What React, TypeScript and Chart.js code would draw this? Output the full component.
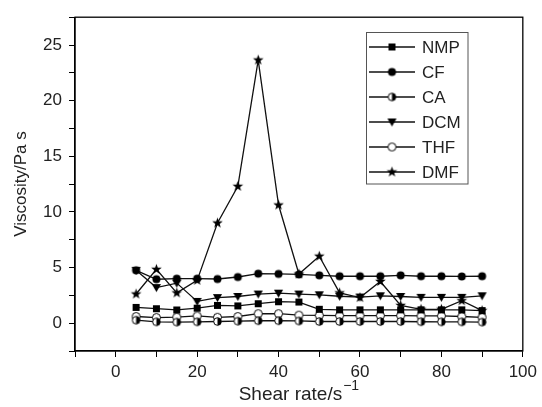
import React, { useEffect, useRef } from 'react';
import { Chart, registerables } from 'chart.js';

Chart.register(...registerables);

const FONT = '"Liberation Sans", Arial, Helvetica, sans-serif';

// Shear rate (s^-1)
const SHEAR = [5, 10, 15, 20, 25, 30, 35, 40, 45, 50, 55, 60, 65, 70, 75, 80, 85, 90];

// Viscosity (Pa s) per solvent
const NMP = [1.42, 1.3, 1.19, 1.35, 1.6, 1.55, 1.75, 1.93, 1.9, 1.25, 1.2, 1.2, 1.2, 1.2, 1.2, 1.2, 1.2, 1.13];
const CF = [4.75, 3.95, 4.0, 4.0, 3.97, 4.15, 4.45, 4.43, 4.38, 4.3, 4.22, 4.22, 4.22, 4.3, 4.22, 4.22, 4.2, 4.22];
const CA = [0.27, 0.12, 0.1, 0.12, 0.15, 0.18, 0.22, 0.22, 0.2, 0.15, 0.15, 0.15, 0.15, 0.15, 0.13, 0.12, 0.12, 0.1];
const DCM = [4.75, 3.2, 3.6, 1.96, 2.3, 2.4, 2.62, 2.7, 2.62, 2.55, 2.42, 2.35, 2.46, 2.4, 2.32, 2.32, 2.32, 2.46];
const THF = [0.6, 0.5, 0.55, 0.65, 0.53, 0.6, 0.85, 0.85, 0.72, 0.7, 0.68, 0.68, 0.68, 0.68, 0.65, 0.65, 0.6, 0.53];
const DMF = [2.62, 4.84, 2.72, 3.85, 9.0, 12.3, 23.65, 10.62, 4.42, 6.02, 2.72, 2.3, 3.75, 1.6, 1.25, 1.25, 2.02, 1.13];

const SERIES_NAMES = ['NMP', 'CF', 'CA', 'DCM', 'THF', 'DMF'];
const SERIES_VALUES = [NMP, CF, CA, DCM, THF, DMF];
const MARKER_KINDS = ['square', 'circle', 'half', 'triangle', 'open', 'star'];

const X_MIN = -10;
const X_MAX = 100;
const Y_MIN = -2.5;
const Y_MAX = 27.5;

const X_TITLE = 'Shear rate/s';
const X_TITLE_SUP = '\u22121';
const Y_TITLE = 'Viscosity/Pa s';

function makeMarker(kind: string): HTMLCanvasElement {
  const size = 15;
  const c = document.createElement('canvas');
  c.width = size;
  c.height = size;
  const g = c.getContext('2d')!;
  g.translate(size / 2, size / 2);
  g.fillStyle = '#000';
  g.strokeStyle = '#000';
  g.lineWidth = 1;
  if (kind === 'square') {
    g.fillRect(-3.5, -3.5, 7, 7);
  } else if (kind === 'circle') {
    g.beginPath();
    g.arc(0, 0, 4, 0, Math.PI * 2);
    g.fill();
  } else if (kind === 'half') {
    g.beginPath();
    g.arc(0, 0, 3.8, 0, Math.PI * 2);
    g.fillStyle = '#fff';
    g.fill();
    g.beginPath();
    g.arc(0, 0, 3.8, -Math.PI / 2, Math.PI / 2);
    g.closePath();
    g.fillStyle = '#000';
    g.fill();
    g.beginPath();
    g.arc(0, 0, 3.8, 0, Math.PI * 2);
    g.stroke();
  } else if (kind === 'triangle') {
    g.beginPath();
    g.moveTo(-4.6, -3.6);
    g.lineTo(4.6, -3.6);
    g.lineTo(0, 4.6);
    g.closePath();
    g.fill();
  } else if (kind === 'open') {
    g.beginPath();
    g.arc(0, 0, 4, 0, Math.PI * 2);
    g.fillStyle = '#fff';
    g.fill();
    g.stroke();
  } else if (kind === 'star') {
    g.beginPath();
    for (let i = 0; i < 10; i++) {
      const r = i % 2 === 0 ? 5.6 : 2.3;
      const a = -Math.PI / 2 + (i * Math.PI) / 5;
      const px = Math.cos(a) * r;
      const py = Math.sin(a) * r;
      if (i === 0) g.moveTo(px, py);
      else g.lineTo(px, py);
    }
    g.closePath();
    g.fill();
  }
  return c;
}

export default function App() {
  const ref = useRef<HTMLCanvasElement>(null);

  useEffect(() => {
    const canvas = ref.current;
    if (!canvas) return;
    const markers = MARKER_KINDS.map((k) => makeMarker(k));

    const decorPlugin = {
      id: 'decor',
      afterDraw(chart: any) {
        const ctx = chart.ctx as CanvasRenderingContext2D;
        const a = chart.chartArea;
        ctx.save();
        // frame
        ctx.strokeStyle = '#000';
        ctx.lineWidth = 1.3;
        ctx.strokeRect(a.left, a.top, a.right - a.left, a.bottom - a.top);

        // y title
        ctx.fillStyle = '#222';
        ctx.font = `17px ${FONT}`;
        ctx.save();
        ctx.translate(21, (a.top + a.bottom) / 2);
        ctx.rotate(-Math.PI / 2);
        ctx.textAlign = 'center';
        ctx.textBaseline = 'middle';
        ctx.fillText(Y_TITLE, 0, 0);
        ctx.restore();

        // x title with superscript
        ctx.font = `19px ${FONT}`;
        const w1 = ctx.measureText(X_TITLE).width;
        ctx.font = `14px ${FONT}`;
        const w2 = ctx.measureText(X_TITLE_SUP).width;
        const cx = (a.left + a.right) / 2;
        const startX = cx - (w1 + w2 + 1) / 2;
        ctx.textAlign = 'left';
        ctx.textBaseline = 'alphabetic';
        ctx.font = `19px ${FONT}`;
        ctx.fillText(X_TITLE, startX, 400);
        ctx.font = `14px ${FONT}`;
        ctx.fillText(X_TITLE_SUP, startX + w1 + 1, 390);

        // legend
        const bx = 366.5;
        const by = 32.5;
        const bw = 101.5;
        const bh = 151.5;
        ctx.strokeStyle = '#555';
        ctx.lineWidth = 1;
        ctx.strokeRect(bx, by, bw, bh);
        SERIES_NAMES.forEach((name, i) => {
          const yy = 47 + i * 25;
          ctx.strokeStyle = '#111';
          ctx.lineWidth = 1.3;
          ctx.beginPath();
          ctx.moveTo(369, yy);
          ctx.lineTo(415, yy);
          ctx.stroke();
          const m = markers[i];
          ctx.drawImage(m, 392 - m.width / 2, yy - m.height / 2);
          ctx.fillStyle = '#222';
          ctx.font = `17px ${FONT}`;
          ctx.textAlign = 'left';
          ctx.textBaseline = 'middle';
          ctx.fillText(name, 422, yy + 1);
        });
        ctx.restore();
      },
    };

    const chart = new Chart(canvas, {
      type: 'line',
      data: {
        datasets: SERIES_NAMES.map((name, i) => ({
          label: name,
          data: SHEAR.map((x, j) => ({ x, y: SERIES_VALUES[i][j] })),
          borderColor: '#111',
          backgroundColor: '#111',
          borderWidth: 1.3,
          tension: 0,
          pointStyle: markers[i] as any,
          pointRadius: 5,
          pointHoverRadius: 5,
        })),
      },
      options: {
        animation: false,
        responsive: false,
        devicePixelRatio: 1,
        layout: { padding: { top: 13, right: 15, left: 0, bottom: 0 } },
        plugins: {
          legend: { display: false },
          tooltip: { enabled: false },
        },
        scales: {
          x: {
            type: 'linear',
            min: X_MIN,
            max: X_MAX,
            afterFit: (s: any) => {
              s.height = 56;
            },
            ticks: {
              stepSize: 10,
              autoSkip: false,
              maxRotation: 0,
              padding: 5,
              color: '#222',
              font: { family: FONT, size: 17 },
              callback: (v: any) => (Number(v) % 20 === 0 ? String(v) : ''),
            },
            grid: {
              drawOnChartArea: false,
              drawTicks: true,
              tickLength: 6,
              color: '#000',
              lineWidth: 1,
            },
            border: { display: true, color: '#000', width: 1.3 },
          },
          y: {
            type: 'linear',
            min: Y_MIN,
            max: Y_MAX,
            afterFit: (s: any) => {
              s.width = 75;
            },
            ticks: {
              stepSize: 2.5,
              autoSkip: false,
              padding: 7,
              color: '#222',
              font: { family: FONT, size: 17 },
              callback: (v: any) => (Number(v) % 5 === 0 ? String(v) : ''),
            },
            grid: {
              drawOnChartArea: false,
              drawTicks: true,
              tickLength: 6,
              color: '#000',
              lineWidth: 1,
            },
            border: { display: true, color: '#000', width: 1.3 },
          },
        },
      },
      plugins: [decorPlugin],
    });

    return () => chart.destroy();
  }, []);

  return (
    <div style={{ position: 'fixed', left: 0, top: 0, width: 542, height: 407, background: '#fff' }}>
      <canvas ref={ref} width={542} height={407} style={{ display: 'block', width: 542, height: 407 }} />
    </div>
  );
}
